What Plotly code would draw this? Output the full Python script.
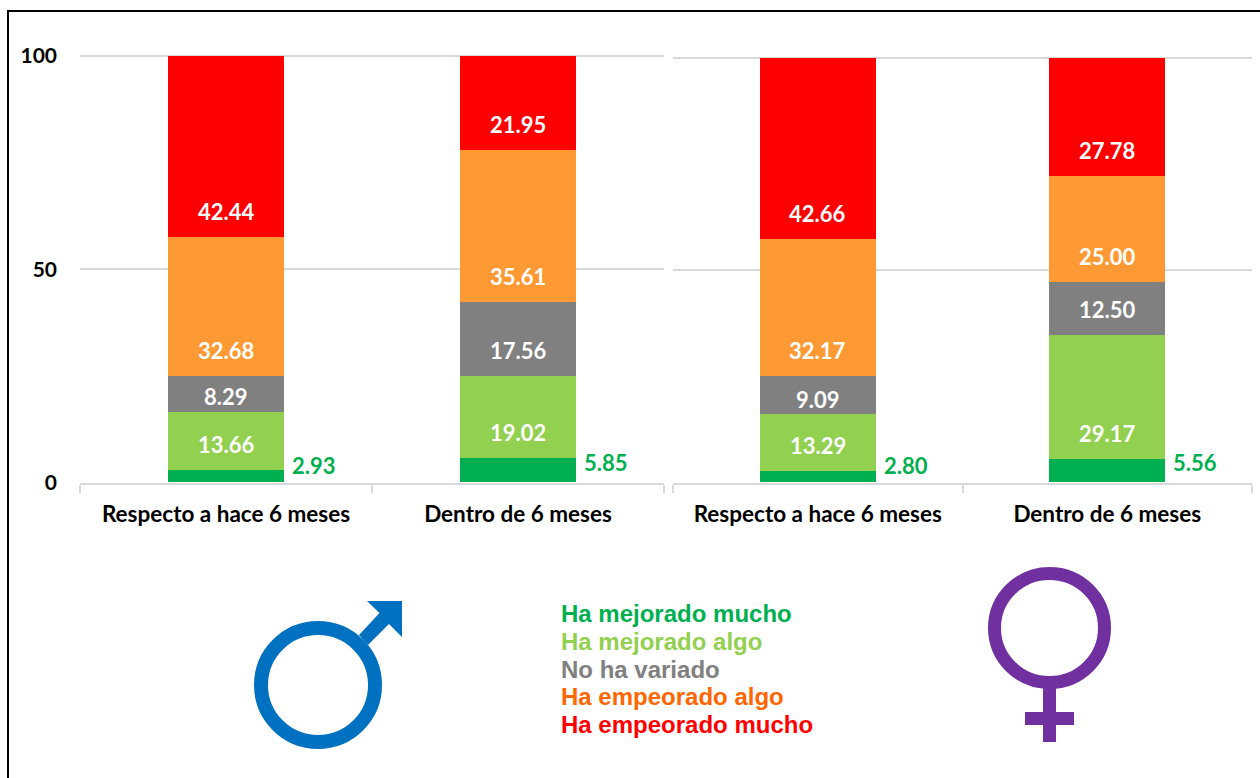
import plotly.graph_objects as go

W, H = 1260, 778

categories = ["Respecto a hace 6 meses", "Dentro de 6 meses"]
series_names = ["Ha mejorado mucho", "Ha mejorado algo", "No ha variado", "Ha empeorado algo", "Ha empeorado mucho"]
male_values = [[2.93, 5.85], [13.66, 19.02], [8.29, 17.56], [32.68, 35.61], [42.44, 21.95]]
female_values = [[2.80, 5.56], [13.29, 29.17], [9.09, 12.50], [32.17, 25.00], [42.66, 27.78]]
y_ticks = [0, 50, 100]

bar_colors = ["#00B050", "#92D050", "#808080", "#FF9933", "#FF0000"]
legend_colors = ["#00B050", "#92D050", "#808080", "#FF6600", "#FF0000"]
GRID = "#D9D9D9"
LABEL_FONT = "Lato, Carlito, Calibri, sans-serif"
LEGEND_FONT = "Liberation Sans, Arial, sans-serif"


def px(x):
    return x / W


def py(y):
    return 1 - y / H


def path(points):
    return "M " + " L ".join(f"{px(x):.5f},{py(y):.5f}" for x, y in points) + " Z"


fig = go.Figure()
annotations = []
panels = [(male_values, "x", "y"), (female_values, "x2", "y2")]
for values, xa, ya in panels:
    for i, name in enumerate(series_names):
        fig.add_trace(go.Bar(
            x=categories, y=values[i], name=name, xaxis=xa, yaxis=ya,
            marker=dict(color=bar_colors[i], line=dict(width=0)),
            showlegend=False, hoverinfo="x+y+name",
        ))
    for j, cat in enumerate(categories):
        base = 0.0
        for i in range(len(series_names)):
            v = values[i][j]
            if i == 0:
                annotations.append(dict(
                    x=cat, y=0, xref=xa, yref=ya, text=f"<b>{v:.2f}</b>", showarrow=False,
                    xshift=88, yshift=17 if v < 4 else 20, yanchor="middle", xanchor="center",
                    font=dict(family=LABEL_FONT, size=22, color=bar_colors[0]),
                ))
            else:
                annotations.append(dict(
                    x=cat, y=base, xref=xa, yref=ya, text=f"<b>{v:.2f}</b>", showarrow=False,
                    yshift=15 if v < 10 else 25.5, yanchor="middle", xanchor="center",
                    font=dict(family=LABEL_FONT, size=22, color="white"),
                ))
            base += v

for k, (name, col) in enumerate(zip(series_names, legend_colors)):
    annotations.append(dict(
        x=px(559), y=py(613.5 + k * 27.75), xref="paper", yref="paper", xanchor="left", yanchor="middle",
        text=f"<b>{name}</b>", showarrow=False,
        font=dict(family=LEGEND_FONT, size=24, color=col),
    ))

shapes = [
    # outer frame
    dict(type="rect", xref="paper", yref="paper", x0=px(8), x1=px(1270), y0=py(790), y1=py(11),
         line=dict(color="black", width=2), fillcolor="rgba(0,0,0,0)", layer="below"),
    # male symbol
    dict(type="circle", xref="paper", yref="paper", x0=px(261), x1=px(375), y0=py(742), y1=py(628),
         line=dict(color="#0070C0", width=14), fillcolor="rgba(0,0,0,0)"),
    dict(type="path", xref="paper", yref="paper", line=dict(width=0), fillcolor="#0070C0",
         path=path([(359, 635), (379.5, 613), (367, 601), (402, 601), (402, 637), (389, 624), (368, 645)])),
    # female symbol
    dict(type="circle", xref="paper", yref="paper", x0=px(994.5), x1=px(1104.5), y0=py(682.5), y1=py(573.5),
         line=dict(color="#7030A0", width=13), fillcolor="rgba(0,0,0,0)"),
    dict(type="path", xref="paper", yref="paper", line=dict(width=0), fillcolor="#7030A0",
         path=path([(1043, 686), (1056, 686), (1056, 712), (1074, 712), (1074, 725), (1056, 725),
                    (1056, 742), (1043, 742), (1043, 725), (1025, 725), (1025, 712), (1043, 712)])),
]

xaxis_common = dict(
    type="category", categoryorder="array", categoryarray=categories, automargin=False,
    tickson="boundaries", ticks="outside", ticklen=8, tickwidth=2, tickcolor=GRID,
    showline=True, linecolor=GRID, linewidth=2, showgrid=False, ticklabelstandoff=10,
    tickfont=dict(family=LABEL_FONT, size=22.5, color="black", weight="bold"),
)
# The value range runs slightly past 100 so that the gridline at 100 is still drawn.
Y_TOP = 100.5
yaxis_common = dict(
    range=[0, Y_TOP], tickmode="array", tickvals=y_ticks, showgrid=True, gridcolor=GRID, gridwidth=2,
    zeroline=False, showline=False, ticks="", automargin=False,
)


def y_domain(top_px, zero_px=482.5):
    unit = (zero_px - top_px) / 100
    return [py(zero_px), py(zero_px - unit * Y_TOP)]


fig.update_layout(
    width=W, height=H, margin=dict(l=0, r=0, t=0, b=0, autoexpand=False), autosize=False,
    paper_bgcolor="white", plot_bgcolor="white", barmode="stack", bargap=0.6,
    showlegend=False, annotations=annotations, shapes=shapes,
    xaxis=dict(domain=[px(80), px(664)], anchor="y", **xaxis_common),
    xaxis2=dict(domain=[px(673), px(1252)], anchor="y2", **xaxis_common),
    yaxis=dict(domain=y_domain(56), anchor="x", ticklabelstandoff=22,
               tickfont=dict(family=LABEL_FONT, size=21, color="black", weight="bold"), **yaxis_common),
    yaxis2=dict(domain=y_domain(58), anchor="x2", showticklabels=False, **yaxis_common),
)

fig.write_html("out.html", config={"displayModeBar": False}, post_script="document.body.style.margin='0';")
